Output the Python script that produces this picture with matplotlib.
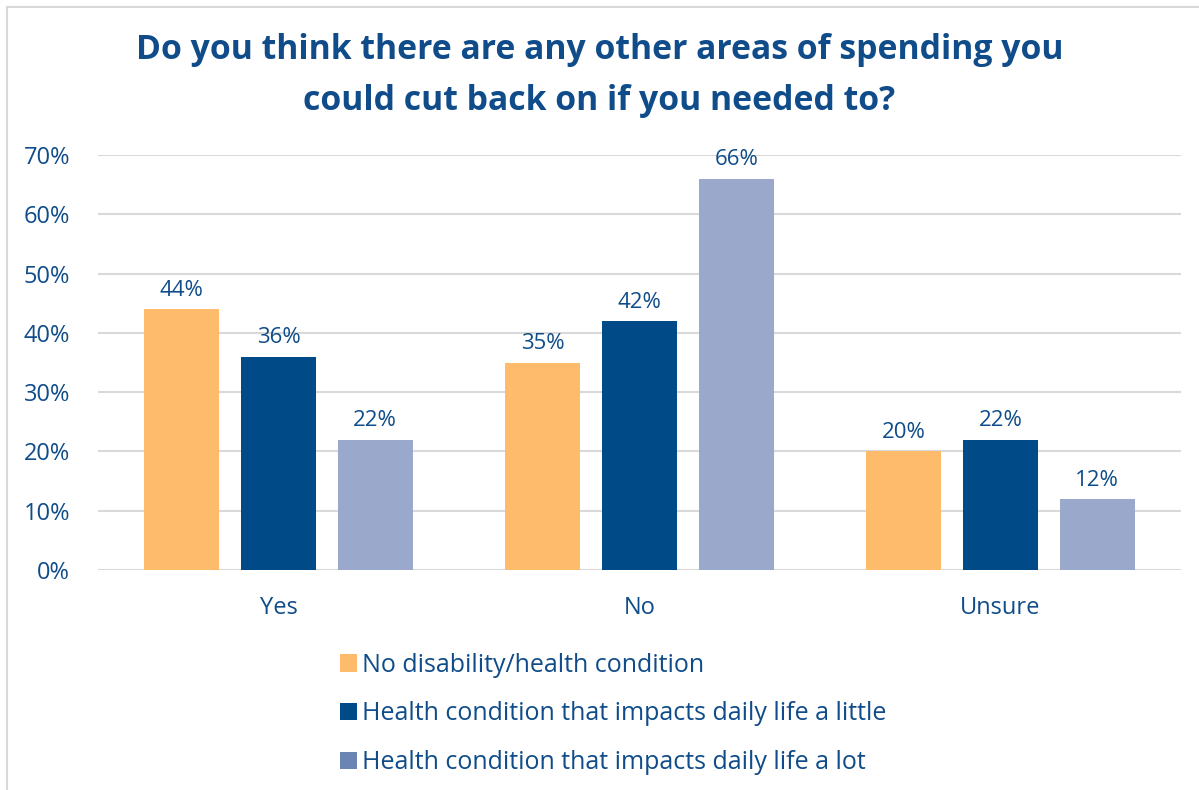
import numpy as np
import matplotlib.pyplot as plt
from matplotlib.lines import Line2D
from matplotlib.patches import Patch

plt.rcParams['font.family'] = ['Open Sans', 'DejaVu Sans']

# Survey answers by health status
categories = ['Yes', 'No', 'Unsure']
series_names = ['No disability/health condition',
                'Health condition that impacts daily life a little',
                'Health condition that impacts daily life a lot']
no_condition = [44, 35, 20]
impacts_little = [36, 42, 22]
impacts_lot = [22, 66, 12]

colors = ['#FDBB6B', '#004B87', '#99A8CB']
legend_colors = ['#FDBB6B', '#004B87', '#6A84B4']
text_color = '#0F4C89'
grid_color = '#D9D9D9'

fig = plt.figure(figsize=(11.99, 7.90), dpi=100)
ax = fig.add_axes([98 / 1199, 1 - 570 / 790, 1083 / 1199, 415 / 790])

x = np.arange(len(categories)) + 0.5
width = 0.208
offset = 0.268
values = [no_condition, impacts_little, impacts_lot]

for i, (vals, col) in enumerate(zip(values, colors)):
    pos = x + (i - 1) * offset
    bars = ax.bar(pos, np.array(vals) / 100, width, color=col, zorder=3)
    for b, v in zip(bars, vals):
        ax.text(b.get_x() + b.get_width() / 2, b.get_height() + 0.014, f'{v}%',
                ha='center', va='bottom', fontsize=16, color=text_color)

ax.set_xlim(0, 3)
ax.set_ylim(0, 0.70)
ax.set_yticks(np.arange(0, 0.71, 0.10))
ax.set_yticklabels([f'{int(round(t * 100))}%' for t in np.arange(0, 0.71, 0.10)])
ax.set_xticks(x)
ax.set_xticklabels(categories)
ax.tick_params(axis='both', length=0, labelsize=17, labelcolor=text_color)
ax.tick_params(axis='y', pad=20)
ax.tick_params(axis='x', pad=19)
ax.grid(axis='y', color=grid_color, linewidth=1.5, zorder=0)
for s in ax.spines.values():
    s.set_visible(False)

fig.text(0.5, 1 - 50 / 790, 'Do you think there are any other areas of spending you',
         ha='center', va='center', fontsize=24.3, fontweight='bold', color=text_color)
fig.text(0.5, 1 - 101 / 790, 'could cut back on if you needed to?',
         ha='center', va='center', fontsize=24.3, fontweight='bold', color=text_color)

handles = [Patch(facecolor=c, edgecolor='none') for c in legend_colors]
leg = fig.legend(handles, series_names, loc='upper left',
                 bbox_to_anchor=(317 / 1199, 1 - 630 / 790), frameon=False,
                 fontsize=18, labelcolor=text_color, handlelength=0.7,
                 handleheight=0.7, handletextpad=0.2, labelspacing=0.95)

# light frame around the chart area
fig.add_artist(Line2D([7 / 1199, 1], [1 - 7 / 790] * 2, color=grid_color, linewidth=1.5))
fig.add_artist(Line2D([7 / 1199] * 2, [0, 1 - 7 / 790], color=grid_color, linewidth=1.5))

fig.savefig('out.png', dpi=100)
